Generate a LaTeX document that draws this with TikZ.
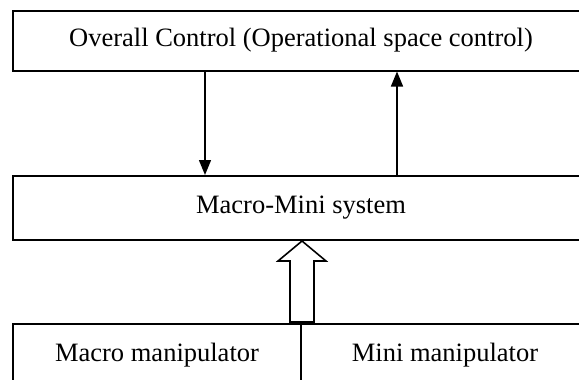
\documentclass[tikz,border=0pt]{standalone}
\usepackage{fontspec}
\setmainfont{Liberation Serif}
\usetikzlibrary{arrows.meta}
\tikzset{
  blockbox/.style={draw=black, line width=2pt, fill=white, inner sep=0pt,
    font=\fontsize{26.5}{30}\selectfont},
  flow/.style={line width=1.4pt, -{Triangle[width=12pt,length=15pt]}},
  hollow/.style={draw=black, line width=1.6pt, fill=white, line join=miter}
}
\begin{document}
\begin{tikzpicture}[x=1pt, y=-1pt]
  \useasboundingbox (0,0) rectangle (579,380);
  \clip (0,0) rectangle (579,380);

  % blocks (they run past the right and bottom edges)
  \node[blockbox, minimum width=576pt, minimum height=60pt] (ctrl) at (301,40.5)
    {Overall Control (Operational space control)};
  \node[blockbox, minimum width=576pt, minimum height=64pt] (sys) at (301,208)
    {Macro-Mini system};
  \node[blockbox, minimum width=288pt, minimum height=62pt] (macro) at (157,355)
    {Macro manipulator};
  \node[blockbox, minimum width=288pt, minimum height=62pt] (mini) at (445,355)
    {Mini manipulator};

  % command and feedback connectors
  \coordinate (down) at (205,0);
  \coordinate (up) at (397,0);
  \draw[flow] (ctrl.south -| down) -- (sys.north -| down);
  \draw[flow] (sys.north -| up) -- (ctrl.south -| up);

  % block arrow from the manipulators up to the system
  \coordinate (tip) at (macro.north east |- sys.south);
  \coordinate (base) at ([yshift=1pt]macro.north east);
  \draw[hollow] ([xshift=-12pt]base) -- ([xshift=-12pt, yshift=-20pt]tip)
    -- ([xshift=-24pt, yshift=-20pt]tip) -- (tip)
    -- ([xshift=24pt, yshift=-20pt]tip) -- ([xshift=12pt, yshift=-20pt]tip)
    -- ([xshift=12pt]base) -- cycle;
\end{tikzpicture}
\end{document}
